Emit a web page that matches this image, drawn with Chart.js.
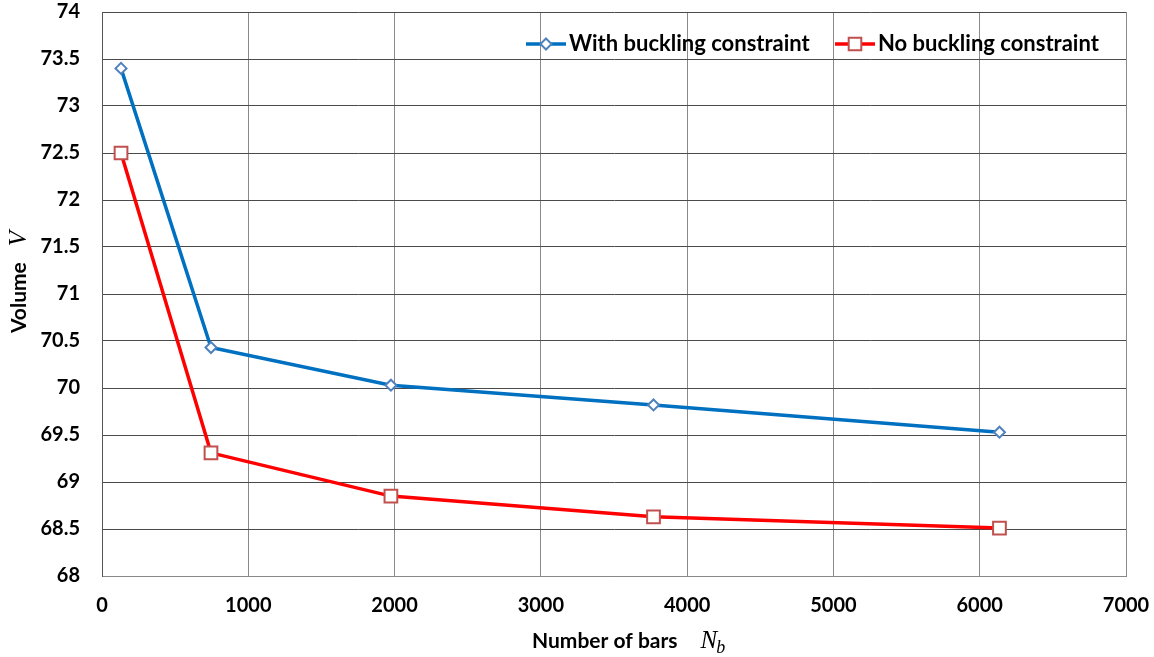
<!DOCTYPE html>
<html>
<head>
<meta charset="utf-8">
<script src="https://cdn.jsdelivr.net/npm/chart.js@4/dist/chart.umd.min.js"></script>
<style>
  html, body { margin: 0; padding: 0; background: #fff; }
  #wrap { width: 1154px; height: 657px; }
</style>
</head>
<body>
<div id="wrap"><canvas id="volumeChart" width="1154" height="657"></canvas></div>
<script>
// number of bars N_b
const bars = [130, 745, 1975, 3770, 6135];
const withBuckling = [73.40, 70.43, 70.03, 69.82, 69.53];
const noBuckling = [72.50, 69.31, 68.85, 68.63, 68.51];
const seriesNames = ["With buckling constraint", "No buckling constraint"];

const xTicks = [0, 1000, 2000, 3000, 4000, 5000, 6000, 7000];
const yTicks = [68, 68.5, 69, 69.5, 70, 70.5, 71, 71.5, 72, 72.5, 73, 73.5, 74];

const BLUE = "#0070C0";
const BLUE_MARK = "#4F81BD";
const RED = "#FF0000";
const RED_MARK = "#C0504D";
const FONT = "Lato, 'Open Sans', sans-serif";
const MATH = "'Liberation Serif', 'DejaVu Serif', serif";

function toPoints(xs, ys) {
  return xs.map((x, i) => ({ x: x, y: ys[i] }));
}

function drawMarker(ctx, type, x, y, color) {
  ctx.save();
  ctx.fillStyle = "#fff";
  ctx.strokeStyle = color;
  ctx.lineWidth = 2;
  ctx.beginPath();
  if (type === "diamond") {
    const r = 5.5;
    ctx.moveTo(x, y - r);
    ctx.lineTo(x + r, y);
    ctx.lineTo(x, y + r);
    ctx.lineTo(x - r, y);
    ctx.closePath();
  } else {
    const s = 6.3;
    ctx.rect(x - s, y - s, 2 * s, 2 * s);
  }
  ctx.fill();
  ctx.stroke();
  ctx.restore();
}

// legend inside the plot + axis titles with the math symbols
const decorations = {
  id: "decorations",
  afterDraw(chart) {
    const ctx = chart.ctx;
    ctx.save();

    // legend
    const items = [
      { name: seriesNames[0], color: BLUE, mark: BLUE_MARK, type: "diamond", x: 526 },
      { name: seriesNames[1], color: RED, mark: RED_MARK, type: "square", x: 835 }
    ];
    const ly = 44;
    items.forEach(it => {
      ctx.strokeStyle = it.color;
      ctx.lineWidth = 3.5;
      ctx.beginPath();
      ctx.moveTo(it.x, ly);
      ctx.lineTo(it.x + 40, ly);
      ctx.stroke();
      drawMarker(ctx, it.type, it.x + 20, ly, it.mark);
      ctx.fillStyle = "#000";
      ctx.font = "bold 22px " + FONT;
      ctx.textAlign = "left";
      ctx.textBaseline = "middle";
      ctx.fillText(it.name, it.x + 43, ly);
    });

    // x axis title
    ctx.fillStyle = "#000";
    ctx.textBaseline = "alphabetic";
    ctx.font = "bold 21px " + FONT;
    ctx.textAlign = "left";
    const xLabel = "Number of bars";
    const xStart = 532;
    const base = 648;
    ctx.fillText(xLabel, xStart, base);
    let px = xStart + ctx.measureText(xLabel).width + 23;
    ctx.font = "italic 25px " + MATH;
    ctx.fillText("N", px, base);
    px += ctx.measureText("N").width - 1;
    ctx.font = "italic 18px " + MATH;
    ctx.fillText("b", px, base + 5);

    // y axis title
    ctx.translate(26, 282);
    ctx.rotate(-Math.PI / 2);
    ctx.font = "bold 21px " + FONT;
    const yLabel = "Volume";
    const yw = ctx.measureText(yLabel).width;
    ctx.font = "italic 25px " + MATH;
    const vw = ctx.measureText("V").width;
    const total = yw + 16 + vw;
    ctx.font = "bold 21px " + FONT;
    ctx.fillText(yLabel, -total / 2, 0);
    ctx.font = "italic 25px " + MATH;
    ctx.fillText("V", -total / 2 + yw + 16, 0);
    ctx.restore();
  }
};

const ctx = document.getElementById("volumeChart").getContext("2d");
new Chart(ctx, {
  type: "scatter",
  data: {
    datasets: [
      {
        label: seriesNames[0],
        data: toPoints(bars, withBuckling),
        showLine: true,
        borderColor: BLUE,
        borderWidth: 3.5,
        pointStyle: "rectRot",
        pointRadius: 5.5,
        pointBorderColor: BLUE_MARK,
        pointBackgroundColor: "#fff",
        pointBorderWidth: 2,
        tension: 0
      },
      {
        label: seriesNames[1],
        data: toPoints(bars, noBuckling),
        showLine: true,
        borderColor: RED,
        borderWidth: 3.5,
        pointStyle: "rect",
        pointRadius: 9,
        pointBorderColor: RED_MARK,
        pointBackgroundColor: "#fff",
        pointBorderWidth: 2,
        tension: 0
      }
    ]
  },
  options: {
    responsive: false,
    animation: false,
    layout: { padding: { top: 12, right: 28, left: 0, bottom: 0 } },
    plugins: {
      legend: { display: false },
      tooltip: { enabled: false }
    },
    scales: {
      x: {
        type: "linear",
        min: xTicks[0],
        max: xTicks[xTicks.length - 1],
        afterBuildTicks: axis => { axis.ticks = xTicks.map(v => ({ value: v })); },
        afterFit: axis => {
          axis.height = 81;
          axis.paddingLeft = 0;
          axis.paddingRight = 0;
        },
        border: { display: true, color: "#888", width: 1 },
        grid: { color: "#8a8a8a", lineWidth: 1, drawTicks: false },
        ticks: {
          padding: 18,
          color: "#000",
          font: { family: FONT, size: 20, weight: "bold" },
          callback: v => String(v)
        }
      },
      y: {
        type: "linear",
        min: yTicks[0],
        max: yTicks[yTicks.length - 1],
        afterBuildTicks: axis => { axis.ticks = yTicks.map(v => ({ value: v })); },
        afterFit: axis => {
          axis.width = 102;
          axis.paddingTop = 0;
          axis.paddingBottom = 0;
        },
        border: { display: true, color: "#555", width: 1 },
        grid: { color: "#4a4a4a", lineWidth: 1, drawTicks: false },
        ticks: {
          padding: 22,
          color: "#000",
          font: { family: FONT, size: 20, weight: "bold" },
          callback: v => String(v)
        }
      }
    }
  },
  plugins: [decorations]
});
</script>
</body>
</html>
